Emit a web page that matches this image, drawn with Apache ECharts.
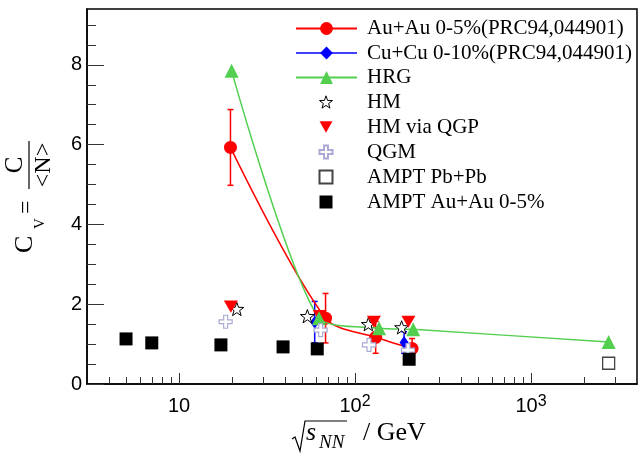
<!DOCTYPE html>
<html lang="en">
<head>
<meta charset="UTF-8">
<title>C_V vs sqrt(s_NN)</title>
<script src="https://cdn.jsdelivr.net/npm/echarts@6/dist/echarts.min.js"></script>
</head>
<body style="margin:0">
<div id="main" style="width:641px;height:454px;"></div>
<script type="text/javascript">
// values (x in GeV)
var auX = [19.6, 68, 131, 211];
var auY = [5.93, 1.65, 1.17, 0.89];
var auErr = [0.95, 0.62, 0.40, 0.25];

var cuX = [59, 190];
var cuY = [1.55, 1.04];
var cuErr = [0.52, 0.27];

var hrgX = [19.9, 62.4, 137, 214, 2760];
var hrgY = [7.85, 1.65, 1.40, 1.37, 1.05];

var hmX = [21.3, 53.6, 119, 184];
var hmY = [1.88, 1.70, 1.50, 1.42];

var hmQgpX = [19.7, 63, 128, 201];
var hmQgpY = [1.94, 1.70, 1.56, 1.56];

var qgmX = [18.4, 63.8, 120, 200];
var qgmY = [1.56, 1.35, 0.98, 0.85];

var amptPbX = [2760];
var amptPbY = [0.52];

var amptAuX = [5, 7, 17.3, 39, 61, 203];
var amptAuY = [1.13, 1.03, 0.98, 0.93, 0.88, 0.62];

var xMajor = [10, 100, 1000];
var xMinor = [4, 5, 6, 7, 8, 9, 20, 30, 40, 50, 60, 70, 80, 90,
              200, 300, 400, 500, 600, 700, 800, 900, 2000, 3000];
var yMajor = [0, 2, 4, 6, 8];
var yMinor = [0.5, 1, 1.5, 2, 2.5, 3, 3.5, 4, 4.5, 5, 5.5, 6, 6.5, 7, 7.5, 8, 8.5, 9];

var names = ['Au+Au 0-5%(PRC94,044901)', 'Cu+Cu 0-10%(PRC94,044901)', 'HRG',
             'HM', 'HM via QGP', 'QGM', 'AMPT Pb+Pb', 'AMPT Au+Au 0-5%'];

var RED = '#ff0000', BLUE = '#0000ff', GREEN = '#52cf4f';
var STAR = 'path://M50,0L61.8,33.8L97.6,34.5L69,56.2L79.4,90.5L50,70L20.6,90.5L31,56.2L2.4,34.5L38.2,33.8Z';
var CROSS = 'path://M35,0H65V35H100V65H65V100H35V65H0V35H35Z';
var DOWN_TRI = 'path://M0,0H100L50,87Z';

function pairs(xs, ys) {
    return xs.map(function (x, i) { return [x, ys[i]]; });
}

function errBars(xs, ys, es, color, z) {
    return {
        type: 'custom',
        silent: true,
        z: z,
        encode: { x: 0, y: [1, 2] },
        data: xs.map(function (x, i) { return [x, ys[i] - es[i], ys[i] + es[i]]; }),
        renderItem: function (params, api) {
            var lo = api.coord([api.value(0), api.value(1)]);
            var hi = api.coord([api.value(0), api.value(2)]);
            var st = { stroke: color, lineWidth: 1.5 };
            return {
                type: 'group',
                children: [
                    { type: 'line', shape: { x1: lo[0], y1: lo[1], x2: hi[0], y2: hi[1] }, style: st },
                    { type: 'line', shape: { x1: lo[0] - 3, y1: lo[1], x2: lo[0] + 3, y2: lo[1] }, style: st },
                    { type: 'line', shape: { x1: hi[0] - 3, y1: hi[1], x2: hi[0] + 3, y2: hi[1] }, style: st }
                ]
            };
        }
    };
}

function xLabel(v) {
    var p = Math.round(Math.log(v) / Math.LN10);
    if (p === 1) return '{b|10}';
    return '{b|10}{s|' + p + '}';
}

var myChart = echarts.init(document.getElementById('main'));

var serif = 'Liberation Serif';
var sans = 'Liberation Sans';

var option = {
    animation: false,
    grid: {
        left: 87, right: 4, top: 9, bottom: 70,
        show: true, borderColor: '#000', borderWidth: 1.5
    },
    xAxis: [
        {
            type: 'log', logBase: 10, min: 3, max: 4000, position: 'bottom',
            axisLine: { lineStyle: { color: '#000', width: 1.5 } },
            axisTick: { inside: true, length: 11, customValues: xMajor, lineStyle: { color: '#333' } },
            axisLabel: {
                customValues: xMajor, margin: 11, formatter: xLabel,
                rich: {
                    b: { fontFamily: sans, fontSize: 20, color: '#000', lineHeight: 20, padding: [3, 0, 0, 0] },
                    s: { fontFamily: sans, fontSize: 16, color: '#000', lineHeight: 16, padding: [0, 0, 7, 0] }
                }
            },
            splitLine: { show: false }
        },
        {
            type: 'log', logBase: 10, min: 3, max: 4000, position: 'bottom',
            axisLine: { show: false },
            axisTick: { inside: true, length: 7, customValues: xMinor, lineStyle: { color: '#333' } },
            axisLabel: { show: false },
            splitLine: { show: false }
        }
    ],
    yAxis: [
        {
            type: 'value', min: 0, max: 9.4, position: 'left',
            axisLine: { show: true, lineStyle: { color: '#000', width: 1.5 } },
            axisTick: { inside: true, length: 17, customValues: yMajor, lineStyle: { color: '#333' } },
            axisLabel: { customValues: yMajor, margin: 5, fontFamily: sans, fontSize: 20, color: '#000' },
            splitLine: { show: false }
        },
        {
            type: 'value', min: 0, max: 9.4, position: 'left',
            axisLine: { show: false },
            axisTick: { inside: true, length: 9, customValues: yMinor, lineStyle: { color: '#333' } },
            axisLabel: { show: false },
            splitLine: { show: false }
        }
    ],
    legend: [
        {
            orient: 'vertical', left: 295, top: 18, padding: 0,
            itemWidth: 61, itemHeight: 16, itemGap: 3.5,
            textStyle: { fontFamily: serif, fontSize: 21, color: '#000', lineHeight: 16, padding: [0, 0, 0, 5] },
            data: [
                names[0],
                { name: names[1], lineStyle: { opacity: 1, width: 1.5, color: BLUE } },
                names[2]
            ],
            selectedMode: false
        },
        {
            orient: 'vertical', left: 318.5, top: 91.5, padding: 0,
            itemWidth: 13, itemHeight: 13, itemGap: 4,
            textStyle: { fontFamily: serif, fontSize: 21, color: '#000', lineHeight: 13, padding: [0, 0, 0, 29.5] },
            data: [
                { name: names[3], itemStyle: { color: '#fff', borderColor: '#000', borderWidth: 1 } },
                names[4], names[5], names[6],
                { name: names[7], itemStyle: { color: '#000' } }
            ],
            selectedMode: false
        }
    ],
    graphic: [
        // y axis title: C_V = C / <N>, rotated
        {
            type: 'group', x: 0, y: 260, rotation: Math.PI / 2, silent: true,
            children: [
                { type: 'text', x: 7, y: 25, style: { text: 'C', font: '26px "Liberation Serif"', fill: '#000', align: 'left', verticalAlign: 'middle' } },
                { type: 'text', x: 31, y: 40, style: { text: 'V', font: '15px "Liberation Serif"', fill: '#000', align: 'left', verticalAlign: 'middle' } },
                { type: 'text', x: 46, y: 27, style: { text: '=', font: '24px "Liberation Serif"', fill: '#000', align: 'left', verticalAlign: 'middle' } },
                { type: 'text', x: 95, y: 15, style: { text: 'C', font: '25px "Liberation Serif"', fill: '#000', align: 'center', verticalAlign: 'middle' } },
                { type: 'line', shape: { x1: 71, y1: 29, x2: 119, y2: 29 }, style: { stroke: '#000', lineWidth: 1.2 } },
                { type: 'text', x: 95, y: 44, style: { text: '<N>', font: '24px "Liberation Serif"', fill: '#000', align: 'center', verticalAlign: 'middle' } }
            ]
        },
        // x axis title: sqrt(s_NN) / GeV
        {
            type: 'polyline', silent: true,
            shape: { points: [[292, 439], [295, 437], [300, 451], [305, 421], [347, 421]] },
            style: { stroke: '#000', lineWidth: 1.2, fill: null }
        },
        { type: 'text', x: 306, y: 433, silent: true, style: { text: 's', font: 'italic 26px "Liberation Serif"', fill: '#000', align: 'left', verticalAlign: 'middle' } },
        { type: 'text', x: 319, y: 443, silent: true, style: { text: 'NN', font: 'italic 19px "Liberation Serif"', fill: '#000', align: 'left', verticalAlign: 'middle' } },
        { type: 'text', x: 363, y: 433, silent: true, style: { text: '/ GeV', font: '26px "Liberation Serif"', fill: '#000', align: 'left', verticalAlign: 'middle' } }
    ],
    series: [
        errBars(auX, auY, auErr, RED, 2),
        errBars(cuX, cuY, cuErr, BLUE, 2),
        {
            name: names[0], type: 'line', data: pairs(auX, auY), smooth: 0.3,
            symbol: 'circle', symbolSize: 13, z: 3,
            lineStyle: { color: RED, width: 1.5 }, itemStyle: { color: RED }
        },
        {
            name: names[1], type: 'line', data: pairs(cuX, cuY),
            symbol: 'diamond', symbolSize: [9, 13], z: 3,
            lineStyle: { color: BLUE, width: 1.5, opacity: 0 }, itemStyle: { color: BLUE }
        },
        {
            name: names[3], type: 'scatter', data: pairs(hmX, hmY),
            symbol: STAR, symbolSize: 14, symbolKeepAspect: true, z: 4,
            itemStyle: { color: '#fff', borderColor: '#000', borderWidth: 1, opacity: 1 }
        },
        {
            name: names[4], type: 'scatter', data: pairs(hmQgpX, hmQgpY),
            symbol: DOWN_TRI, symbolSize: 14, symbolKeepAspect: true, z: 4,
            itemStyle: { color: RED, opacity: 1 }
        },
        {
            name: names[2], type: 'line', data: pairs(hrgX, hrgY), smooth: 0.25,
            symbol: 'triangle', symbolSize: 14, z: 4,
            lineStyle: { color: GREEN, width: 1.5 }, itemStyle: { color: GREEN }
        },
        {
            name: names[5], type: 'scatter', data: pairs(qgmX, qgmY),
            symbol: CROSS, symbolSize: 13, symbolKeepAspect: true, z: 4,
            itemStyle: { color: '#fff', borderColor: '#a9a9d4', borderWidth: 1.2, opacity: 1 }
        },
        {
            name: names[6], type: 'scatter', data: pairs(amptPbX, amptPbY),
            symbol: 'rect', symbolSize: 12, z: 4,
            itemStyle: { color: '#fff', borderColor: '#444', borderWidth: 1.3, opacity: 1 }
        },
        {
            name: names[7], type: 'scatter', data: pairs(amptAuX, amptAuY),
            symbol: 'rect', symbolSize: 13, z: 5,
            itemStyle: { color: '#000', opacity: 1 }
        }
    ]
};
myChart.setOption(option);
</script>
</body>
</html>
